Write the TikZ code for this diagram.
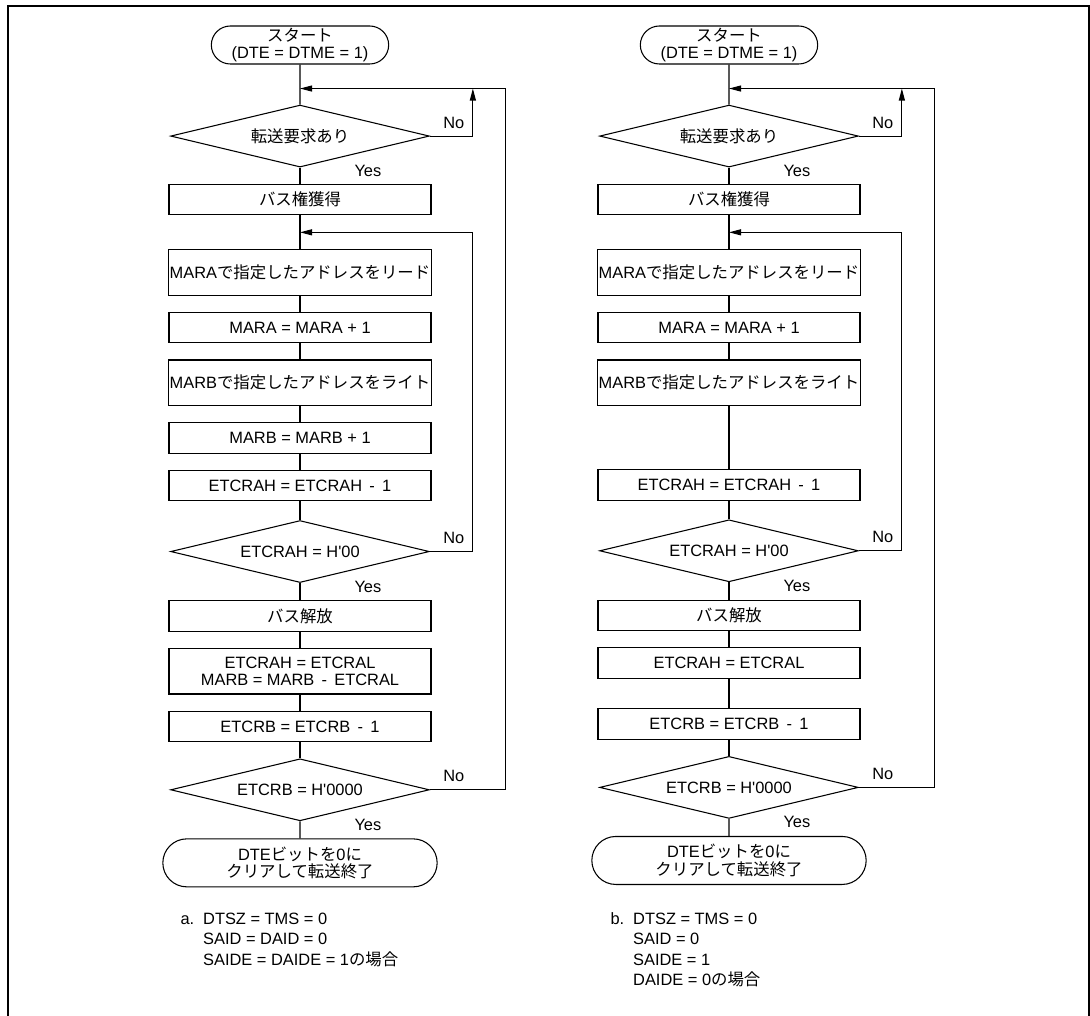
\documentclass[tikz,border=0pt]{standalone}
\usepackage{fontspec}
\setmainfont{Liberation Sans}[Ligatures=TeXOff]
\newfontfamily\jp{Noto Sans CJK JP}
\usetikzlibrary{arrows.meta,positioning,shapes.geometric,shapes.misc}

\begin{document}
\begin{tikzpicture}[
  x=0.75pt, y=-0.75pt, line width=0.8pt,
  font=\fontsize{12.3pt}{13pt}\selectfont, >={Triangle[length=9pt,width=4.5pt]}, node distance=12pt,
  proc/.style={draw, align=center, inner sep=1pt, minimum width=196.5pt, minimum height=23pt},
  proc2/.style={proc, minimum height=34pt},
  term/.style={draw, rounded rectangle, align=center, inner sep=1pt},
  test/.style={draw, diamond, aspect=4.2, inner sep=0pt, minimum width=194pt, minimum height=46.5pt},
  lbl/.style={inner sep=0pt, anchor=base west},
  note/.style={inner sep=0pt, anchor=base west, font=\fontsize{12.3pt}{15.4pt}\selectfont}]
\useasboundingbox (0,0) rectangle (1090,1016);
\draw[line width=1.5pt] (8,1016) -- (8,6.5) -- (1088.5,6.5) -- (1088.5,1016);

% a. left chart
\node[term, minimum width=135pt, minimum height=28.5pt] (aStart) at (300,45) {{\jp スタート}\\(DTE = DTME = 1)};
\node[test, below=30pt of aStart] (aReq) {\jp 転送要求あり};
\node[proc, below=of aReq] (aBus) {\jp バス権獲得};
\node[proc2, below=25.5pt of aBus] (aRead) {MARA{\jp で指定したアドレスをリード}};
\node[proc, below=of aRead] (aIncA) {MARA = MARA + 1};
\node[proc2, below=of aIncA] (aWrite) {MARB{\jp で指定したアドレスをライト}};
\node[proc, below=of aWrite] (aIncB) {MARB = MARB + 1};
\node[proc, below=of aIncB] (aDecH) {ETCRAH = ETCRAH \,-\, 1};
\node[test, below=14pt of aDecH] (aChkH) {ETCRAH = H'00};
\node[proc, below=13pt of aChkH] (aRel) {\jp バス解放};
\node[proc2, below=of aRel] (aLoad) {ETCRAH = ETCRAL\\MARB = MARB \,-\, ETCRAL};
\node[proc, below=of aLoad] (aDecB) {ETCRB = ETCRB \,-\, 1};
\node[test, below=of aDecB] (aChkB) {ETCRB = H'0000};
\node[term, below=12.75pt of aChkB, minimum width=207.75pt, minimum height=36pt] (aEnd) {DTE{\jp ビットを}0{\jp に}\\{\jp クリアして転送終了}};
\coordinate[below=18pt of aStart] (aJoin1);
\coordinate[below=12.75pt of aBus] (aJoin2);
\draw (aStart) -- (aJoin1) -- (aReq); \draw (aReq) -- (aBus); \draw (aBus) -- (aJoin2) -- (aRead);
\draw (aRead) -- (aIncA); \draw (aIncA) -- (aWrite); \draw (aWrite) -- (aIncB); \draw (aIncB) -- (aDecH);
\draw (aDecH) -- (aChkH); \draw (aChkH) -- (aRel); \draw (aRel) -- (aLoad); \draw (aLoad) -- (aDecB);
\draw (aDecB) -- (aChkB); \draw (aChkB) -- (aEnd);
\draw[->] (aReq.east) -- ++(43,0) coordinate (aUp) -- (aUp |- aJoin1);
\draw[->] (aChkH.east) -- ++(43,0) |- (aJoin2);
\draw[->] (aChkB.east) -- ++(76,0) |- (aJoin1);
\node[lbl] (aNo1) at ([shift={(13,-8)}]aReq.east) {No};
\node[lbl] (aYes1) at ([shift={(54,9)}]aReq.south) {Yes};
\node[lbl] (aNo2) at ([shift={(13,-8)}]aChkH.east) {No};
\node[lbl] (aYes2) at ([shift={(54,9)}]aChkH.south) {Yes};
\node[lbl] (aNo3) at ([shift={(13,-8)}]aChkB.east) {No};
\node[lbl] (aYes3) at ([shift={(54,9)}]aChkB.south) {Yes};
\node[note] (aNote) at (180,924) {\begin{tabular}[t]{@{}l@{\hspace{6.75pt}}l@{}}a. & DTSZ = TMS = 0\\ & SAID = DAID = 0\\ & SAIDE = DAIDE = 1{\jp の場合}\end{tabular}};

% b. right chart
\node[term, minimum width=135pt, minimum height=28.5pt] (bStart) at (729,45) {{\jp スタート}\\(DTE = DTME = 1)};
\node[test, below=30pt of bStart] (bReq) {\jp 転送要求あり};
\node[proc, below=of bReq] (bBus) {\jp バス権獲得};
\node[proc2, below=25.5pt of bBus] (bRead) {MARA{\jp で指定したアドレスをリード}};
\node[proc, below=of bRead] (bIncA) {MARA = MARA + 1};
\node[proc2, below=of bIncA] (bWrite) {MARB{\jp で指定したアドレスをライト}};
\node[proc, below=47.25pt of bWrite] (bDecH) {ETCRAH = ETCRAH \,-\, 1};
\node[test, below=14pt of bDecH] (bChkH) {ETCRAH = H'00};
\node[proc, below=13pt of bChkH] (bRel) {\jp バス解放};
\node[proc, below=of bRel] (bLoad) {ETCRAH = ETCRAL};
\node[proc, below=21.75pt of bLoad] (bDecB) {ETCRB = ETCRB \,-\, 1};
\node[test, below=of bDecB] (bChkB) {ETCRB = H'0000};
\node[term, below=12.75pt of bChkB, minimum width=207.75pt, minimum height=36pt] (bEnd) {DTE{\jp ビットを}0{\jp に}\\{\jp クリアして転送終了}};
\coordinate[below=18pt of bStart] (bJoin1);
\coordinate[below=12.75pt of bBus] (bJoin2);
\draw (bStart) -- (bJoin1) -- (bReq); \draw (bReq) -- (bBus); \draw (bBus) -- (bJoin2) -- (bRead);
\draw (bRead) -- (bIncA); \draw (bIncA) -- (bWrite); \draw (bWrite) -- (bDecH);
\draw (bDecH) -- (bChkH); \draw (bChkH) -- (bRel); \draw (bRel) -- (bLoad); \draw (bLoad) -- (bDecB);
\draw (bDecB) -- (bChkB); \draw (bChkB) -- (bEnd);
\draw[->] (bReq.east) -- ++(43,0) coordinate (bUp) -- (bUp |- bJoin1);
\draw[->] (bChkH.east) -- ++(43,0) |- (bJoin2);
\draw[->] (bChkB.east) -- ++(76,0) |- (bJoin1);
\node[lbl] (bNo1) at ([shift={(13,-8)}]bReq.east) {No};
\node[lbl] (bYes1) at ([shift={(54,9)}]bReq.south) {Yes};
\node[lbl] (bNo2) at ([shift={(13,-8)}]bChkH.east) {No};
\node[lbl] (bYes2) at ([shift={(54,9)}]bChkH.south) {Yes};
\node[lbl] (bNo3) at ([shift={(13,-8)}]bChkB.east) {No};
\node[lbl] (bYes3) at ([shift={(54,9)}]bChkB.south) {Yes};
\node[note] (bNote) at (610,924) {\begin{tabular}[t]{@{}l@{\hspace{6.75pt}}l@{}}b. & DTSZ = TMS = 0\\ & SAID = 0\\ & SAIDE = 1\\ & DAIDE = 0{\jp の場合}\end{tabular}};
\end{tikzpicture}
\end{document}
